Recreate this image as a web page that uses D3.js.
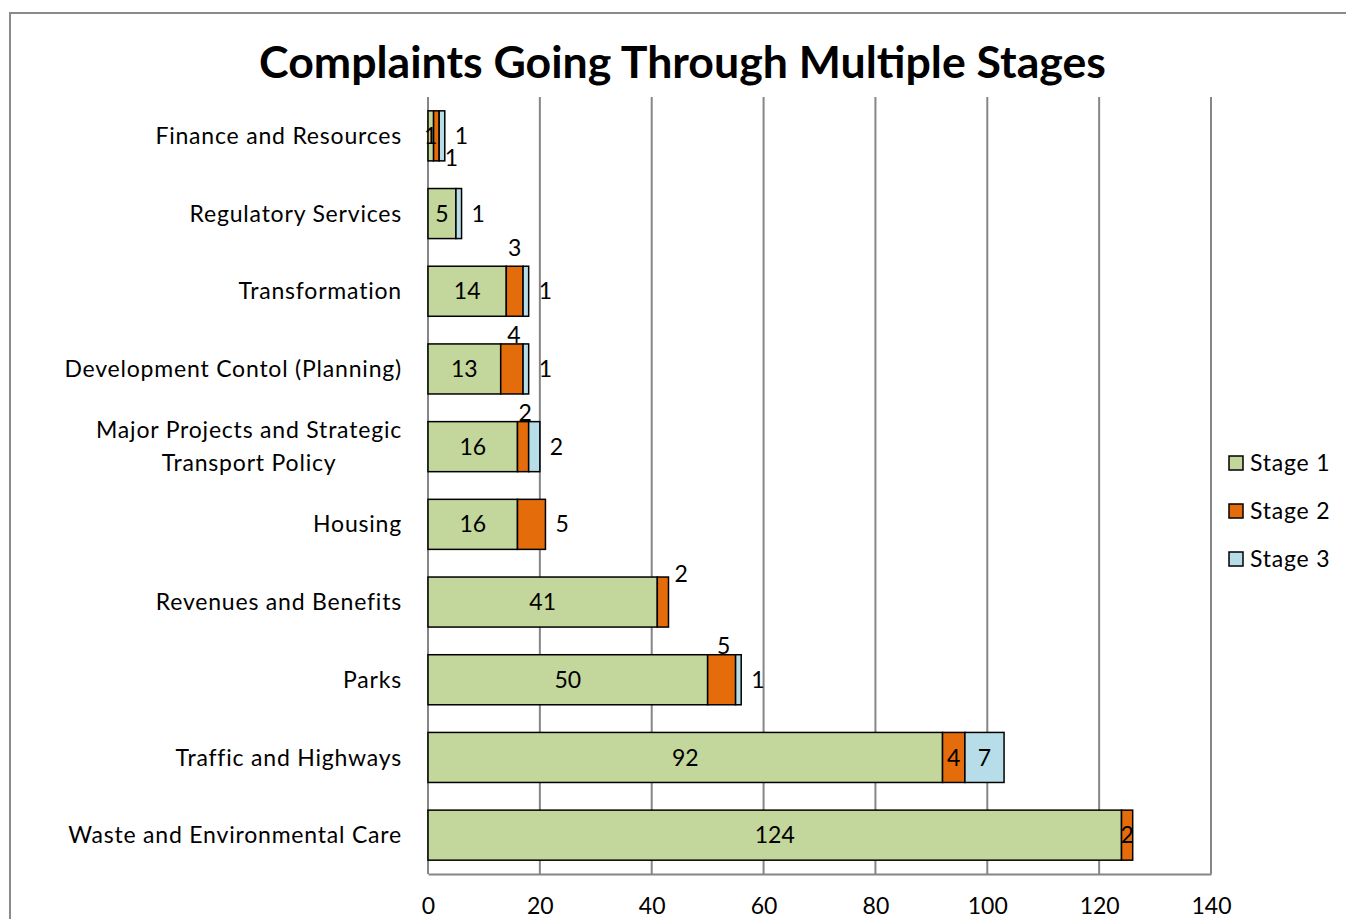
<!DOCTYPE html>
<html><head><meta charset="utf-8">
<script src="https://cdn.jsdelivr.net/npm/d3@7"></script>
<style>
html,body{margin:0;padding:0;background:#fff;}
svg{display:block;font-family:Lato,"Open Sans",sans-serif;}
</style></head>
<body>
<svg id="chart" width="1346" height="919"></svg>
<script>
const title = "Complaints Going Through Multiple Stages";
const categories = [
  "Finance and Resources",
  "Regulatory Services",
  "Transformation",
  "Development Contol (Planning)",
  "Major Projects and Strategic Transport Policy",
  "Housing",
  "Revenues and Benefits",
  "Parks",
  "Traffic and Highways",
  "Waste and Environmental Care"
];
const seriesNames = ["Stage 1", "Stage 2", "Stage 3"];
const stage1 = [1, 5, 14, 13, 16, 16, 41, 50, 92, 124];
const stage2 = [1, 0, 3, 4, 2, 5, 2, 5, 4, 2];
const stage3 = [1, 1, 1, 1, 2, 0, 0, 1, 7, 0];
const xTicks = [0, 20, 40, 60, 80, 100, 120, 140];
// label placement per series (how the labels were arranged in the original)
const labelModes = [
  ["center","center","center","center","center","center","center","center","center","center"],
  ["below","none","aboveHigh","above","above","right","aboveRight","above","center","center"],
  ["right","right","right","right","right","none","none","right","center","none"]
];
const colors = ["#C3D69B", "#E46C0A", "#B7DEE8"];

const svg = d3.select("#chart");
const m = {left: 428, right: 1211, top: 97, bottom: 874};
const FONT = "Lato, 'Open Sans', sans-serif";

// frame
svg.append("rect").attr("x", 10).attr("y", 13).attr("width", 1346).attr("height", 920)
  .attr("fill", "none").attr("stroke", "#8a8a8a").attr("stroke-width", 2);

const x = d3.scaleLinear().domain([0, 140]).range([m.left, m.right]);
const y = d3.scaleBand().domain(categories).range([m.top, m.bottom])
  .paddingInner(0.356).paddingOuter(0.178);

function fitSize(text, weight, target, base) {
  const t = svg.append("text").attr("font-size", base).attr("font-weight", weight).text(text);
  const w = t.node().getComputedTextLength();
  t.remove();
  return base * target / w;
}
const labelSize = 23;
const titleSize = fitSize(title, "bold", 847, 40);
const LS = "0.8px";

// title
svg.append("text").attr("x", 682.5).attr("y", 78).attr("text-anchor", "middle")
  .attr("font-size", titleSize).attr("font-weight", "bold").attr("fill", "#000").text(title);

// gridlines
svg.append("g").selectAll("line").data(xTicks).join("line")
  .attr("x1", d => x(d)).attr("x2", d => x(d))
  .attr("y1", m.top).attr("y2", m.bottom)
  .attr("stroke", "#868686").attr("stroke-width", 2);

// x axis
const xAxis = svg.append("g").attr("transform", `translate(0,${m.bottom})`)
  .call(d3.axisBottom(x).tickValues(xTicks).tickSize(0).tickPadding(0));
xAxis.select(".domain").attr("stroke", "#868686").attr("stroke-width", 2);
xAxis.selectAll("text").attr("font-size", labelSize).attr("font-family", FONT)
  .attr("fill", "#000").attr("dy", null).attr("y", 40);

// y axis labels
const yAxis = svg.append("g").attr("transform", `translate(${m.left},0)`)
  .call(d3.axisLeft(y).tickSize(0).tickPadding(26));
yAxis.select(".domain").remove();
yAxis.selectAll("text").attr("font-size", labelSize).attr("font-family", FONT)
  .attr("letter-spacing", LS).attr("fill", "#000").attr("dy", "0.35em")
  .each(function(d) {
    if (d === "Major Projects and Strategic Transport Policy") {
      const t = d3.select(this);
      t.text(null).attr("dy", null);
      const t1 = t.append("tspan").attr("x", -26).attr("dy", "-0.37em").text("Major Projects and Strategic");
      const w1 = t1.node().getComputedTextLength();
      t.append("tspan").attr("x", -26 - w1 / 2).attr("text-anchor", "middle").attr("dy", "1.43em").text("Transport Policy");
    }
  });

// stacked data
const series = [stage1, stage2, stage3];
const rows = categories.map((c, i) => {
  let acc = 0;
  return series.map((s, k) => {
    const seg = {cat: c, i, k, v: s[i], x0: acc, x1: acc + s[i], total: stage1[i] + stage2[i] + stage3[i]};
    acc += s[i];
    return seg;
  });
}).flat();

svg.append("g").selectAll("rect").data(rows.filter(d => d.v > 0)).join("rect")
  .attr("x", d => x(d.x0)).attr("width", d => x(d.x1) - x(d.x0))
  .attr("y", d => y(d.cat)).attr("height", y.bandwidth())
  .attr("fill", d => colors[d.k]).attr("stroke", "#000").attr("stroke-width", 1.5);

// labels
const lab = svg.append("g").attr("font-size", labelSize).attr("fill", "#000");
rows.filter(d => d.v > 0).forEach(d => {
  const mode = labelModes[d.k][d.i];
  if (mode === "none") return;
  const cx = (x(d.x0) + x(d.x1)) / 2;
  const cy = y(d.cat) + y.bandwidth() / 2;
  let tx = cx, ty = cy, anchor = "middle", dy = "0.35em";
  if (mode === "above") { ty = y(d.cat) - 1; dy = "0"; tx = cx + 2; }
  else if (mode === "aboveHigh") { ty = y(d.cat) - 10; dy = "0"; }
  else if (mode === "aboveRight") { tx = x(d.total) + 6; anchor = "start"; ty = y(d.cat) + 5; dy = "0"; }
  else if (mode === "below") { tx = cx + 15; ty = cy + 22; }
  else if (mode === "right") { tx = x(d.total) + 10; anchor = "start"; }
  lab.append("text").attr("x", tx).attr("y", ty).attr("dy", dy)
    .attr("text-anchor", anchor).text(d.v);
});

// legend
const lg = svg.append("g");
seriesNames.forEach((n, k) => {
  const ly = 463 + k * 48;
  lg.append("rect").attr("x", 1229).attr("y", ly - 7).attr("width", 14).attr("height", 14)
    .attr("fill", colors[k]).attr("stroke", "#000").attr("stroke-width", 1.5);
  lg.append("text").attr("x", 1250).attr("y", ly).attr("dy", "0.35em")
    .attr("font-size", labelSize).attr("letter-spacing", LS).attr("fill", "#000").text(n);
});
</script>
</body></html>
